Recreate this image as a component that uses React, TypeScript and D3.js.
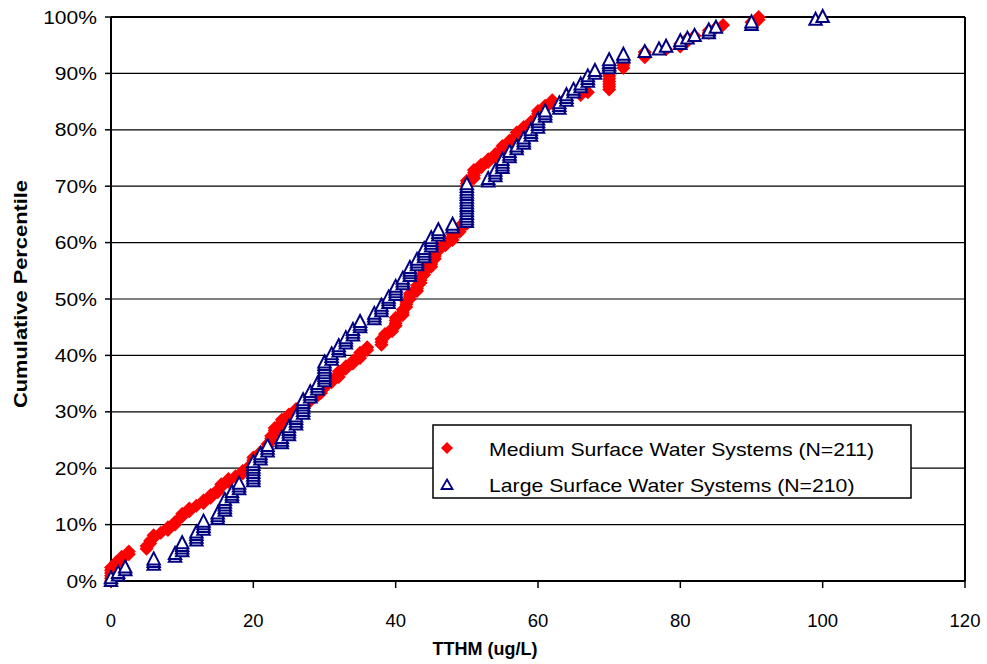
import React from "react";
import * as d3 from "d3";

// Medium surface water systems: distinct TTHM values (ug/L) and how many systems have each
const mediumValues = [0, 0.7, 1.5, 2.5, 5, 5.5, 6, 7, 8, 9, 9.5, 10, 11, 12, 13, 14, 15, 15.5, 16.5, 17.5, 18.5, 19.5, 20, 21, 22, 22.5, 23, 24, 25, 26, 27, 28, 29, 29.5, 30, 31, 32, 33, 34, 35, 36, 38, 38.5, 39.5, 40, 41, 41.5, 42, 43, 43.5, 44, 45, 45.5, 46, 47, 48, 49, 50, 51, 52, 53, 54, 55, 56, 57, 58, 59, 60, 61, 62, 64, 66, 67, 70, 72, 75, 78, 80, 81, 82, 84, 85, 86, 90, 91];
const mediumCounts = [6, 2, 2, 2, 2, 2, 2, 1, 2, 2, 1, 2, 2, 1, 2, 2, 2, 2, 2, 1, 2, 2, 3, 2, 3, 3, 3, 3, 2, 2, 2, 2, 1, 2, 2, 2, 3, 2, 2, 3, 2, 3, 2, 2, 4, 3, 3, 3, 3, 3, 3, 3, 3, 2, 2, 3, 3, 17, 4, 2, 2, 2, 3, 2, 3, 2, 2, 4, 2, 2, 1, 1, 1, 8, 4, 3, 1, 2, 2, 1, 2, 1, 1, 1, 2];

// Large surface water systems
const largeValues = [0, 1, 2, 6, 9, 10, 12, 13, 15, 16, 17, 18, 20, 21, 22, 24, 25, 26, 27, 28, 29, 30, 31, 32, 33, 34, 35, 37, 38, 39, 40, 41, 42, 43, 44, 45, 46, 48, 50, 53, 54, 55, 56, 57, 58, 59, 60, 61, 63, 64, 65, 66, 67, 68, 70, 72, 75, 77, 78, 80, 81, 82, 84, 85, 90, 99, 100];
const largeCounts = [2, 2, 2, 3, 2, 4, 4, 4, 3, 5, 3, 3, 8, 3, 3, 3, 4, 4, 6, 3, 3, 8, 3, 3, 3, 3, 3, 3, 3, 3, 4, 3, 4, 3, 4, 4, 3, 2, 15, 2, 3, 4, 3, 2, 3, 3, 4, 3, 3, 3, 2, 2, 3, 2, 4, 2, 1, 1, 1, 2, 1, 1, 2, 1, 2, 1, 1];

const xTicks = [0, 20, 40, 60, 80, 100, 120];
const yTicks = [0, 0.1, 0.2, 0.3, 0.4, 0.5, 0.6, 0.7, 0.8, 0.9, 1.0];
const legendLabels = ["Medium Surface Water Systems (N=211)", "Large Surface Water Systems (N=210)"];

function cumulative(values: number[], counts: number[]) {
  const sorted: number[] = [];
  values.forEach((v, i) => {
    for (let k = 0; k < counts[i]; k++) sorted.push(v);
  });
  const n = sorted.length;
  return sorted.map((v, i) => ({ x: v, p: i / (n - 1) }));
}

const W = 987, H = 664;
const L = 111, R = 965, T = 17, B = 581;
const FONT = "'Liberation Sans', Arial, sans-serif";

const diamond = "M0,-7L7,0L0,7L-7,0Z";
const tri = "M0,-7L6.2,5L-6.2,5Z";

export default function App() {
  const x = d3.scaleLinear().domain([0, 120]).range([L, R]);
  const y = d3.scaleLinear().domain([0, 1]).range([B, T]);
  const med = cumulative(mediumValues, mediumCounts);
  const lrg = cumulative(largeValues, largeCounts);
  const pct = d3.format(".0%");

  return (
    <svg width={W} height={H} style={{ position: "absolute", left: 0, top: 0, background: "#fff" }} fontFamily={FONT}>
      <rect x={0} y={0} width={W} height={H} fill="#fff" />
      {/* gridlines */}
      {yTicks.map((t) => (
        <line key={"g" + t} x1={L} x2={R} y1={y(t)} y2={y(t)} stroke="#000" strokeWidth={1.2} />
      ))}
      {/* y ticks and labels */}
      {yTicks.map((t) => (
        <g key={"y" + t}>
          <line x1={L - 6} x2={L} y1={y(t)} y2={y(t)} stroke="#000" strokeWidth={1.5} />
          <text transform={`translate(97,${y(t) + 6.5}) scale(1.17,1)`} textAnchor="end" fontSize={18} fill="#000">
            {pct(t)}
          </text>
        </g>
      ))}
      {/* x ticks and labels */}
      {xTicks.map((t) => (
        <g key={"x" + t}>
          <line x1={x(t)} x2={x(t)} y1={B} y2={B + 7} stroke="#000" strokeWidth={1.5} />
          <text x={x(t)} y={627} textAnchor="middle" fontSize={18.5} fill="#000">
            {t}
          </text>
        </g>
      ))}
      {/* plot frame */}
      <line x1={L} x2={L} y1={T} y2={B} stroke="#000" strokeWidth={2} />
      <line x1={R} x2={R} y1={T} y2={B} stroke="#000" strokeWidth={2} />
      <line x1={L} x2={R} y1={B} y2={B} stroke="#000" strokeWidth={2} />
      <line x1={L} x2={R} y1={T} y2={T} stroke="#000" strokeWidth={2} />

      {/* medium series */}
      {med.map((d, i) => (
        <path key={"m" + i} d={diamond} transform={`translate(${x(d.x)},${y(d.p)})`} fill="#ff0000" />
      ))}
      {/* large series */}
      {lrg.map((d, i) => (
        <path key={"l" + i} d={tri} transform={`translate(${x(d.x)},${y(d.p)})`} fill="#fff" stroke="#000080" strokeWidth={2} />
      ))}

      {/* axis titles */}
      <text x={485} y={655} textAnchor="middle" fontSize={18} fontWeight="bold" fill="#000">TTHM (ug/L)</text>
      <text transform={`translate(27,294) rotate(-90)`} textAnchor="middle" fontSize={18} fontWeight="bold" fill="#000"
        textLength={228} lengthAdjust="spacingAndGlyphs">Cumulative Percentile</text>

      {/* legend */}
      <rect x={433} y={425} width={478} height={73} fill="#fff" stroke="#000" strokeWidth={1.5} />
      <path d="M0,-6L6,0L0,6L-6,0Z" transform="translate(447,448)" fill="#ff0000" />
      <path d="M0,-5.5L5.5,4L-5.5,4Z" transform="translate(447,485)" fill="#fff" stroke="#000080" strokeWidth={1.8} />
      <text transform="translate(489,456) scale(1.18,1)" fontSize={18} fill="#000">{legendLabels[0]}</text>
      <text transform="translate(489,492) scale(1.18,1)" fontSize={18} fill="#000">{legendLabels[1]}</text>
    </svg>
  );
}
